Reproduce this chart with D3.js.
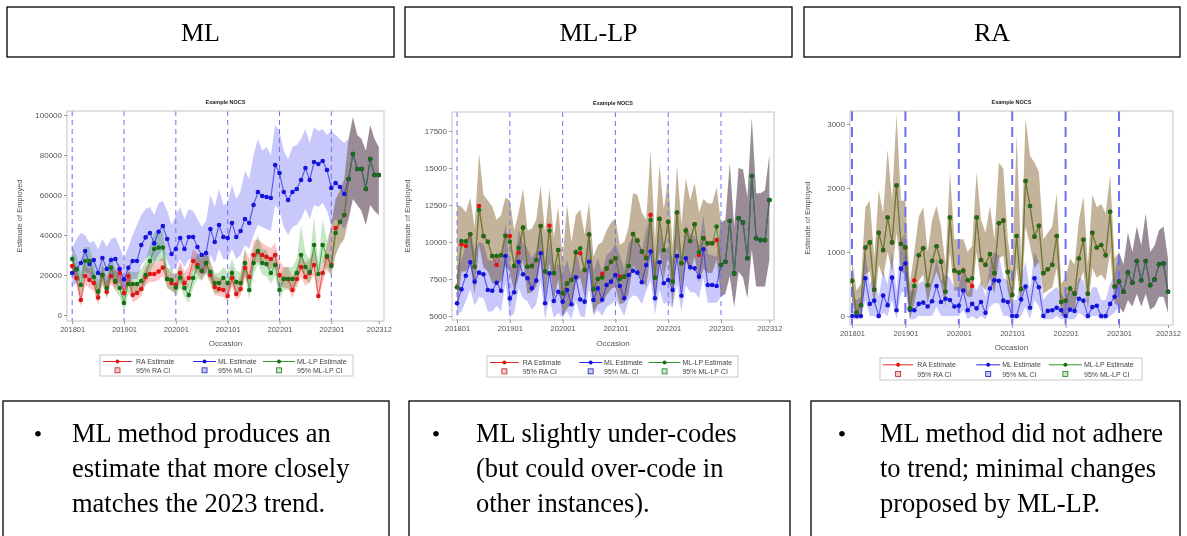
<!DOCTYPE html>
<html>
<head>
<meta charset="utf-8">
<script src="https://cdn.jsdelivr.net/npm/d3@7"></script>
<style>
  body { margin: 0; background: #fff; }
  svg { display: block; }
  .tick text { fill: #555; font-family: 'Liberation Sans', Arial, sans-serif; }
  .tick line { stroke: #999; }
</style>
</head>
<body>
<svg id="chart" width="1187" height="536"></svg>
<script>
// ---- shared categories / text ----
var tickIdx = [0, 12, 24, 36, 48, 60, 71];
var tickLabels = ["201801", "201901", "202001", "202101", "202201", "202301", "202312"];
var refIdx = [0, 12, 24, 36, 48, 60];
var headers = ["ML", "ML-LP", "RA"];
var notes = [
  ["ML method produces an", "estimate that more closely", "matches the 2023 trend."],
  ["ML slightly under-codes", "(but could over-code in", "other instances)."],
  ["ML method did not adhere", "to trend; minimal changes", "proposed by ML-LP."]
];
var legendNames = ["RA Estimate", "ML Estimate", "ML-LP Estimate"];
var legendCI = ["95% RA CI", "95% ML CI", "95% ML-LP CI"];

// ---- panel 1 (ML example), monthly 201801..202312 ----
var p1Ra = [24500,18500,7500,19500,17500,16000,8700,20000,11500,19500,16500,21000,
  11000,19500,10000,11000,13000,19000,20500,20500,21700,23700,18000,16000,
  15000,21000,16000,18500,27000,25000,22000,26000,20000,14000,13000,12500,
  9500,18500,10500,13000,23500,19000,30000,31500,30000,29000,28000,30000,
  20000,18000,18000,12500,18000,24000,19000,21000,25000,9500,21000,29000,
  25000,43500,46500,50000,68000,80500,73000,73000,63000,78000,70000,70000];
var p1Ml = [21000,23000,26000,32000,25500,27500,21000,28500,23000,27500,28000,23000,
  17800,23600,27000,27000,35000,38800,41000,35800,41600,44500,38000,30500,
  33000,38500,33000,39000,39000,34000,30000,31000,43000,36500,45000,39000,
  38500,46000,39000,42000,48000,46000,55000,61500,59500,59000,58500,75000,
  71000,61500,57500,61500,63000,67500,73500,67500,76500,75500,77000,72500,
  63500,66000,64000,60500,68000,80500,73000,73000,63000,78000,70000,70000];
var p1Lp = [28000,22800,15000,27000,27000,19000,11700,20000,13500,23700,17000,13500,
  6000,15500,15500,15500,17000,20000,27000,33000,33700,33700,18000,17500,
  13700,18700,13500,10000,18500,24000,22000,26000,21500,16000,16000,18500,
  16000,21000,16500,16000,26000,12500,26000,32000,26000,25500,21000,25000,
  12500,18000,18000,18000,21000,30000,24000,21500,35000,20500,35000,29500,
  24500,41000,46500,50000,68000,80500,73000,73000,63000,78000,70000,70000];
var p1MlLo = [14000,16000,18000,22000,17000,19000,14000,19000,15000,18000,19000,15000,
  11000,15000,18000,18000,25000,28000,30000,26000,30000,33000,27000,22000,
  24000,28000,24000,28000,28000,24000,20000,21000,30000,26000,33000,28000,
  28000,33000,28000,30000,35000,33000,40000,45000,44000,43000,42000,55000,
  52000,44000,40000,44000,45000,48000,53000,48000,55000,54000,56000,52000,
  45000,48000,46000,43000,48000,58000,55000,52000,45000,55000,52000,50000];
var p1MlHi = [33000,38000,41000,40000,36000,37000,33000,38000,34000,38000,39000,34000,
  28000,34000,40000,45000,50000,53000,54000,50000,56000,57000,52000,45000,
  50000,54000,48000,53000,52000,48000,44000,47000,60000,54000,63000,55000,
  56000,65000,58000,62000,72000,68000,80000,88000,82000,84000,80000,95000,
  92000,82000,78000,84000,85000,88000,93000,86000,94000,92000,93000,90000,
  92000,90000,88000,86000,88000,99000,90000,88000,82000,95000,88000,84000];
var p1RaLo = [20000,14500,4000,15000,13500,12000,5000,16000,8000,15500,12500,17000,
  7500,15500,6500,7500,9500,15000,16500,16500,17500,19500,14000,12000,
  11000,16500,12000,14500,22500,20500,17500,21500,15500,10000,9500,9000,
  6500,14000,7500,9500,18500,14500,25000,26500,25000,24000,23000,25000,
  15000,13500,13500,8500,13500,19000,14500,16500,20000,6000,16000,24000,
  20000,30000,35000,38000,48000,58000,55000,52000,45000,55000,52000,50000];
var p1RaHi = [29500,23500,12000,25000,23000,21000,13500,25000,16500,25000,22000,26000,
  16000,25000,15000,16000,18000,24500,26000,26000,27000,29000,23500,21000,
  20000,27000,21500,24500,33000,30500,27500,31500,26000,19500,18500,18000,
  15000,24500,16000,19500,33000,28000,37000,38000,36000,34500,33500,36000,
  27000,24000,24000,19000,24000,31000,26000,28000,33000,17000,27000,35000,
  45000,58000,62000,68000,88000,99000,90000,88000,82000,95000,88000,84000];
var p1LpLo = [22000,17000,10000,21000,21000,14000,7000,15000,9000,18000,12000,9000,
  2000,10500,10500,10500,12000,15000,21000,26000,27000,27000,13000,12500,
  9000,13500,9000,6000,13500,18500,17000,20500,16500,11000,11000,13500,
  11000,15500,11500,11000,20000,7500,20000,25500,20000,19500,15500,19500,
  7500,12500,12500,12500,15500,23000,18000,15500,27000,15000,27000,22000,
  20000,30000,35000,38000,48000,58000,55000,52000,45000,55000,52000,50000];
var p1LpHi = [35000,29500,21000,34000,34000,25500,17000,26500,19000,30500,23000,19000,
  11000,21500,21500,21500,23000,27000,35000,41000,42000,42000,24000,23000,
  19500,25000,19000,15000,25000,31000,29000,33000,27500,21000,21000,24000,
  21500,28000,22000,21500,33000,18000,33000,40000,33000,32500,27000,32500,
  18000,24000,24000,24000,28000,45000,31000,28000,49000,26500,48000,37000,
  45000,58000,62000,68000,88000,99000,90000,88000,82000,95000,88000,84000];

// ---- panel 2 (ML-LP example) ----
var p2Ra = [6940,9850,9730,10520,8330,12430,10400,10020,9050,8450,9100,10420,
  10400,8380,9280,10970,8330,8380,8780,11080,8000,11100,7900,9460,
  6530,7200,7430,9300,9240,8100,10500,6800,7500,7840,8220,8670,
  8900,7660,7660,8380,10540,10090,9350,8940,11830,7590,11560,9460,
  11370,7320,11990,8560,10770,10070,11200,9120,10250,9910,9910,10130,
  8450,8670,11420,7880,11600,11310,8900,14460,10250,10130,10130,12840];
var p2Ml = [5860,6800,7720,8630,7320,7930,7820,6760,6710,7250,6710,9050,
  6190,6600,8670,7820,7550,6870,7390,9240,5860,7880,6010,6640,
  5970,6760,5790,7620,6120,5970,8670,6080,6870,6100,7090,7320,
  7770,7030,6200,7770,8060,7930,7280,8450,9350,6200,8630,7210,
  7430,6760,9050,6370,8900,8290,8220,7660,9510,7090,7090,7030,
  8450,8670,11420,7880,11600,11310,8900,14460,10250,10130,10130,12840];
var p2Lp = [6940,10070,10040,10520,8330,12160,10400,10020,9050,9050,9100,10420,
  10020,8380,9600,10970,8330,8380,8780,11080,8000,10760,7900,9460,
  6530,7200,7430,9300,9570,8100,10500,6800,7500,7600,8220,8670,
  8900,7500,7660,8380,10540,10090,9350,8900,11490,7590,11560,9460,
  11370,7320,11990,8560,10770,10070,11200,9300,10250,9910,9910,11040,
  8450,8670,11420,7880,11600,11310,8900,14460,10250,10130,10130,12840];
var p2MlLo = [5000,5300,6000,6800,5700,6300,6200,5300,5300,5700,5300,7200,
  4900,5200,6900,6200,6000,5400,5800,7400,4800,6200,4900,5200,
  4900,5300,4800,6000,5000,4900,6900,5000,5400,5000,5600,5800,
  6100,5600,5000,6100,6400,6300,5800,6700,7400,5100,6800,5800,
  6000,5500,7200,5300,7100,6600,6600,6200,7600,5900,5900,5900,
  6300,6500,7700,5600,8000,7600,6200,9500,7000,7000,7000,8800];
var p2MlHi = [7800,8800,9800,10800,9400,10000,9900,8800,8700,9300,8700,11300,
  8200,8600,10800,9900,9600,8900,9400,11500,7800,10000,8000,8600,
  7900,8800,7700,9700,8100,7900,10900,8000,8900,8000,9100,9400,
  9900,9100,8200,9900,10300,10100,9400,10800,11700,8200,10900,9300,
  9600,8800,11400,8300,11200,10500,10400,9800,11800,9200,9100,9000,
  11300,11500,15300,11000,15000,14900,13000,18400,13300,13300,13500,15900];
// RA and ML-LP intervals coincide in this example
var p2CiLo = [5300,8000,8000,8500,6500,9800,8300,8000,7200,7200,7300,8400,
  8000,6600,7600,8800,6500,6600,7000,8900,6200,8600,6100,7500,
  5000,5500,5800,7300,7600,6300,8400,5200,5800,5900,6400,6800,
  7000,5800,5900,6500,8400,8000,7400,7000,9200,5900,9300,7500,
  9100,5600,9700,6700,8700,8000,9000,7300,8200,7900,7900,8800,
  6300,6500,7700,5600,8000,7600,6200,9500,7000,7000,7000,8800];
var p2CiHi = [12500,12400,12000,13000,11000,16000,13200,12800,12400,11500,11800,13000,
  12800,10800,12000,13600,10800,10900,11500,13800,10600,13600,10300,12400,
  8800,12500,10000,11800,12200,10500,12700,9000,9800,10000,10800,11300,
  11600,9800,10000,11000,13300,13200,12000,11500,16200,10000,15200,12200,
  14300,9700,15200,11200,14300,12800,14000,12000,12900,12600,12600,13700,
  11300,11500,15300,11000,15000,14900,13000,18400,13300,13300,13500,15900];

// ---- panel 3 (RA example) ----
var p3Ra = [550,50,170,1070,1150,410,1300,1030,1540,1150,2040,1125,
  1070,120,560,950,1060,480,860,1090,850,380,1540,710,
  680,710,560,470,1540,875,800,970,670,1450,1490,690,
  330,1250,420,2110,1720,1240,1410,670,730,800,1250,220,
  240,430,350,900,1190,350,1300,1070,1110,950,1630,460,
  540,380,680,520,860,560,860,480,570,810,820,380];
var p3Ml = [0,0,0,590,190,240,0,320,170,600,90,740,
  820,100,90,190,210,150,230,470,220,270,250,150,
  160,400,90,190,120,220,50,430,560,550,240,220,
  0,0,260,460,130,590,450,0,80,90,130,90,
  0,100,80,270,240,0,140,160,0,0,190,300,
  540,380,680,520,860,560,860,480,570,810,820,380];
var p3Lp = [550,50,170,1070,1150,410,1300,1030,1540,1150,2040,1125,
  1070,120,470,950,1060,480,860,1090,850,380,1540,710,
  680,710,560,590,1540,875,800,970,670,1450,1490,690,
  330,1250,420,2110,1720,1240,1410,670,730,800,1250,220,
  240,430,350,900,1190,350,1300,1070,1110,950,1630,460,
  540,380,680,520,860,560,860,480,570,810,820,380];
var p3MlLo = [-50,-50,-50,250,0,0,-50,50,0,250,-50,350,
  400,-50,-50,0,0,0,0,150,0,0,0,0,
  0,100,-50,0,-50,0,-50,150,200,200,0,0,
  -50,-50,0,150,-50,250,150,-50,-50,-50,0,-50,
  -50,-50,-50,50,0,-50,0,0,-50,-50,0,50,
  150,50,250,150,350,150,350,100,150,300,300,50];
var p3MlHi = [300,250,300,1000,500,600,300,700,500,1000,400,1200,
  1300,400,400,500,550,450,550,900,550,650,600,450,
  450,800,350,500,400,550,300,850,1000,950,600,550,
  250,250,600,850,400,1000,850,250,350,400,450,350,
  250,400,350,600,550,250,450,450,250,250,500,650,
  1000,800,1300,1000,1400,1100,1600,1000,1100,1340,1400,900];
var p3CiLo = [250,-50,0,650,700,150,800,600,1000,700,1300,700,
  650,-50,200,550,650,200,500,700,500,150,1000,400,
  400,400,300,300,1000,500,400,600,350,900,950,400,
  100,750,150,1400,1100,750,850,350,400,450,750,0,
  0,150,100,500,700,100,750,600,650,550,1000,200,
  150,50,250,150,350,150,350,100,150,300,300,50];
var p3CiHi = [900,400,500,1700,1800,900,1970,1600,2600,1800,3150,1800,
  1800,500,1000,1550,1700,1000,1500,1720,1400,800,2250,1200,
  1200,1200,1000,1100,2250,1500,1300,1720,1200,2400,2300,1200,
  700,2830,900,3100,2500,2400,2250,1200,1300,1400,1920,500,
  600,900,800,1500,1870,800,1900,1700,1750,1600,2200,900,
  1000,800,1300,1000,1400,1100,1600,1000,1100,1340,1400,900];

// colours: RA, ML, ML-LP
var lineCol = ["#e42828", "#2828e4", "#2a962a"];
var dotCol = ["#e01414", "#1414dc", "#167016"];
var bandCol = ["#fcc6c6", "#c8c8fa", "#c6e7c6"];

var panels = [
  { frame: [67, 111, 384, 321], xDom: [-1.2, 72.2], yDom: [-3000, 102000],
    yTicks: [0, 20000, 40000, 60000, 80000, 100000], ylabX: 22, occY: 346,
    legend: [100, 355, 253, 21], dash: "5,4", dashW: 1,
    est: [p1Ra, p1Ml, p1Lp], lo: [p1RaLo, p1MlLo, p1LpLo], hi: [p1RaHi, p1MlHi, p1LpHi] },
  { frame: [452, 112, 774, 320], xDom: [-1.15, 72.05], yDom: [4730, 18784],
    yTicks: [5000, 7500, 10000, 12500, 15000, 17500], ylabX: 410, occY: 346,
    legend: [487, 356, 251, 21], dash: "5,4", dashW: 1,
    est: [p2Ra, p2Ml, p2Lp], lo: [p2CiLo, p2MlLo, p2CiLo], hi: [p2CiHi, p2MlHi, p2CiHi] },
  { frame: [850, 111, 1173, 325], xDom: [-0.45, 72.13], yDom: [-140, 3203],
    yTicks: [0, 1000, 2000, 3000], ylabX: 810, occY: 350,
    legend: [880, 358, 262, 22], dash: "10,6", dashW: 2,
    est: [p3Ra, p3Ml, p3Lp], lo: [p3CiLo, p3MlLo, p3CiLo], hi: [p3CiHi, p3MlHi, p3CiHi] }
];

var svg = d3.select("#chart");
var sans = "'Liberation Sans', Arial, sans-serif";
var serif = "'Liberation Serif', 'Times New Roman', serif";
var idx = d3.range(72);

panels.forEach(function (p, k) {
  var L = p.frame[0], T = p.frame[1], R = p.frame[2], B = p.frame[3];
  var x = d3.scaleLinear().domain(p.xDom).range([L, R]);
  var y = d3.scaleLinear().domain(p.yDom).range([B, T]);

  svg.append("clipPath").attr("id", "clip" + k)
    .append("rect").attr("x", L).attr("y", T).attr("width", R - L).attr("height", B - T);

  var plot = svg.append("g").attr("clip-path", "url(#clip" + k + ")");
  var blend = plot.append("g").style("isolation", "isolate");

  // confidence bands, multiplied so overlaps darken like the SAS output
  [0, 1, 2].forEach(function (s) {
    var area = d3.area()
      .x(function (i) { return x(i); })
      .y0(function (i) { return y(p.lo[s][i]); })
      .y1(function (i) { return y(p.hi[s][i]); });
    blend.append("path").datum(idx).attr("d", area)
      .attr("fill", bandCol[s]).style("mix-blend-mode", "multiply");
  });

  // reference lines at each January
  plot.selectAll("line.ref").data(refIdx).enter().append("line")
    .attr("x1", function (d) { return x(d); }).attr("x2", function (d) { return x(d); })
    .attr("y1", T).attr("y2", B)
    .attr("stroke", "#7070f0").attr("stroke-width", p.dashW)
    .attr("stroke-dasharray", p.dash);

  // estimate lines (semi transparent, so overlapping RA / ML-LP read olive)
  [0, 1, 2].forEach(function (s) {
    var line = d3.line().x(function (i) { return x(i); }).y(function (i) { return y(p.est[s][i]); });
    plot.append("path").datum(idx).attr("d", line)
      .attr("fill", "none").attr("stroke", lineCol[s]).attr("stroke-width", 1.1)
      .attr("stroke-opacity", 0.72);
  });
  // markers
  [0, 1, 2].forEach(function (s) {
    plot.append("g").selectAll("circle").data(idx).enter().append("circle")
      .attr("cx", function (i) { return x(i); })
      .attr("cy", function (i) { return y(p.est[s][i]); })
      .attr("r", 2.3).attr("fill", dotCol[s]);
  });

  // wall frame
  svg.append("rect").attr("x", L).attr("y", T).attr("width", R - L).attr("height", B - T)
    .attr("fill", "none").attr("stroke", "#c4c4c4").attr("stroke-width", 1);

  // axes
  var ya = svg.append("g").attr("transform", "translate(" + L + ",0)")
    .call(d3.axisLeft(y).tickValues(p.yTicks).tickSize(3).tickPadding(2).tickFormat(d3.format("d")));
  ya.select(".domain").remove();
  ya.selectAll("text").style("font-size", "8px");
  var xa = svg.append("g").attr("transform", "translate(0," + B + ")")
    .call(d3.axisBottom(x).tickValues(tickIdx).tickSize(3).tickPadding(3)
      .tickFormat(function (d, i) { return tickLabels[i]; }));
  xa.select(".domain").remove();
  xa.selectAll("text").style("font-size", "7.5px");

  // titles
  svg.append("text").attr("x", (L + R) / 2).attr("y", T - 7).attr("text-anchor", "middle")
    .style("font-family", sans).style("font-size", "5.5px").style("font-weight", "bold")
    .attr("fill", "#222").text("Example NOCS");
  svg.append("text").attr("x", (L + R) / 2).attr("y", p.occY).attr("text-anchor", "middle")
    .style("font-family", sans).style("font-size", "8px").attr("fill", "#555").text("Occasion");
  svg.append("text").attr("transform", "translate(" + p.ylabX + "," + (T + B) / 2 + ") rotate(-90)")
    .attr("text-anchor", "middle").style("font-family", sans).style("font-size", "7.5px")
    .attr("fill", "#555").text("Estimate of Employed");

  // legend
  var lx = p.legend[0], ly = p.legend[1], lw = p.legend[2], lh = p.legend[3];
  var sc = lw / 253;
  var lg = svg.append("g");
  lg.append("rect").attr("x", lx).attr("y", ly).attr("width", lw).attr("height", lh)
    .attr("fill", "#fff").attr("stroke", "#c8c8c8");
  var cols = [[3, 32, 36], [93, 116, 118], [163, 195, 197]];
  var r1 = ly + lh * 0.31, r2 = ly + lh * 0.73;
  cols.forEach(function (c, s) {
    var a = lx + c[0] * sc, b = lx + c[1] * sc, t = lx + c[2] * sc, m = (a + b) / 2;
    lg.append("line").attr("x1", a).attr("x2", b).attr("y1", r1).attr("y2", r1)
      .attr("stroke", lineCol[s]).attr("stroke-width", 1);
    lg.append("circle").attr("cx", m).attr("cy", r1).attr("r", 2).attr("fill", dotCol[s]);
    lg.append("rect").attr("x", m - 2.5).attr("y", r2 - 2.5).attr("width", 5).attr("height", 5)
      .attr("fill", bandCol[s]).attr("stroke", d3.color(lineCol[s]).darker(0.6)).attr("stroke-width", 0.8);
    lg.append("text").attr("x", t).attr("y", r1 + 2.5).style("font-family", sans)
      .style("font-size", "7px").attr("fill", "#444").text(legendNames[s]);
    lg.append("text").attr("x", t).attr("y", r2 + 2.5).style("font-family", sans)
      .style("font-size", "7px").attr("fill", "#444").text(legendCI[s]);
  });
});

// ---- slide boxes ----
var headBoxes = [[7, 394], [405, 792], [804, 1180]];
headBoxes.forEach(function (b, i) {
  svg.append("rect").attr("x", b[0]).attr("y", 7).attr("width", b[1] - b[0]).attr("height", 50)
    .attr("fill", "none").attr("stroke", "#000").attr("stroke-width", 1.3);
  svg.append("text").attr("x", (b[0] + b[1]) / 2).attr("y", 41).attr("text-anchor", "middle")
    .style("font-family", serif).style("font-size", "26px").attr("fill", "#000").text(headers[i]);
});

var noteBoxes = [[3, 389, 38, 72], [409, 790, 436, 476], [811, 1180, 842, 880]];
noteBoxes.forEach(function (b, i) {
  svg.append("rect").attr("x", b[0]).attr("y", 401).attr("width", b[1] - b[0]).attr("height", 150)
    .attr("fill", "none").attr("stroke", "#000").attr("stroke-width", 1.3);
  svg.append("text").attr("x", b[2]).attr("y", 442).attr("text-anchor", "middle")
    .style("font-family", serif).style("font-size", "24px").text("\u2022");
  notes[i].forEach(function (t, j) {
    svg.append("text").attr("x", b[3]).attr("y", 442 + j * 35)
      .style("font-family", serif).style("font-size", "26.5px").attr("fill", "#000").text(t);
  });
});
</script>
</body>
</html>
